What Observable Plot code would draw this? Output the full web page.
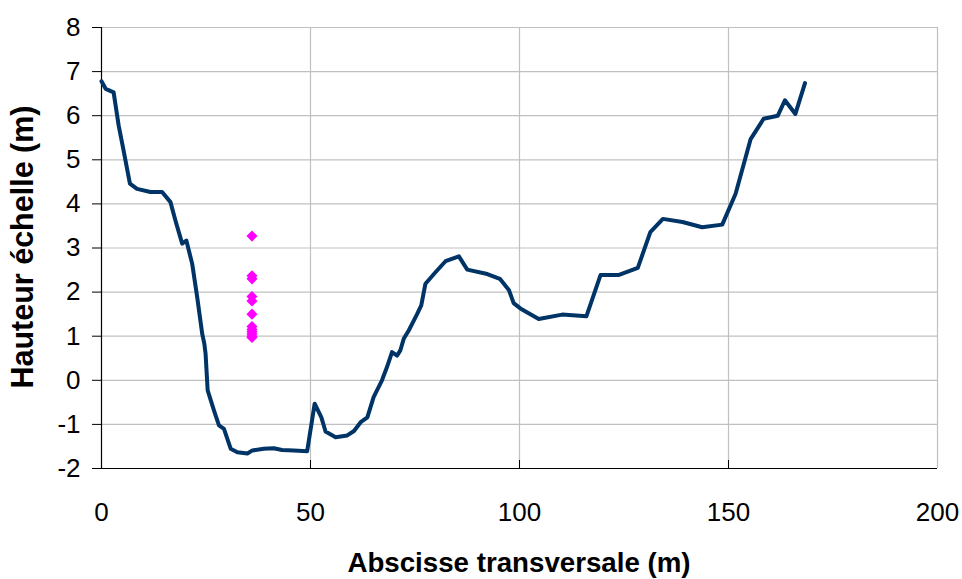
<!DOCTYPE html>
<html>
<head>
<meta charset="utf-8">
<script src="https://cdn.jsdelivr.net/npm/d3@7"></script>
<script src="https://cdn.jsdelivr.net/npm/@observablehq/plot@0.6"></script>
<style>
  body { margin: 0; background: #fff; }
  svg { font-family: "Liberation Sans", Arial, sans-serif; }
</style>
</head>
<body>
<div id="chart"></div>
<script>
const profileX = [0, 1, 2.9, 4.1, 5.3, 6.8, 8.5, 11.7, 14.5, 16.5, 17.7, 19.3, 20.3, 21.7, 22.9, 24.1, 24.6, 24.9, 25.4, 26.9, 28.1, 29.3, 30.9, 32.5, 34.9, 36.1, 38.8, 41.2, 43.2, 46, 49.2, 51, 52.6, 53.6, 56, 58.8, 60.4, 62, 63.6, 65.1, 67.1, 68.3, 69.5, 70.7, 71.5, 72.3, 73.5, 75.5, 76.5, 77.5, 79.9, 82.3, 85.5, 87.5, 92.3, 95.3, 97.5, 98.6, 100.2, 104.6, 110.2, 116, 119.4, 123.8, 128.3, 131.3, 134.3, 139, 143.7, 148.5, 151.7, 155.3, 158.4, 161.8, 163.5, 166, 168.3];
const profileY = [6.78, 6.61, 6.53, 5.78, 5.2, 4.46, 4.34, 4.27, 4.27, 4.04, 3.62, 3.1, 3.17, 2.64, 1.88, 1.05, 0.83, 0.6, -0.23, -0.68, -1.02, -1.1, -1.55, -1.63, -1.66, -1.59, -1.55, -1.54, -1.58, -1.59, -1.61, -0.53, -0.84, -1.16, -1.29, -1.25, -1.15, -0.95, -0.84, -0.38, 0, 0.3, 0.64, 0.56, 0.68, 0.94, 1.13, 1.5, 1.7, 2.19, 2.45, 2.7, 2.81, 2.51, 2.41, 2.3, 2.04, 1.75, 1.63, 1.39, 1.49, 1.45, 2.39, 2.39, 2.55, 3.36, 3.66, 3.59, 3.47, 3.53, 4.23, 5.47, 5.93, 6.0, 6.35, 6.04, 6.74];

const obsX = [36, 36, 36, 36, 36, 36, 36, 36, 36, 36, 36, 36];
const obsY = [3.27, 2.37, 2.3, 1.9, 1.8, 1.5, 1.22, 1.15, 1.1, 1.05, 1.0, 0.97];

const xTicks = [0, 50, 100, 150, 200];
const yTicks = [-2, -1, 0, 1, 2, 3, 4, 5, 6, 7, 8];
const xGrid = [50, 100, 150, 200];
const yGrid = [-1, 0, 1, 2, 3, 4, 5, 6, 7, 8];
const xTitle = "Abscisse transversale (m)";
const yTitle = "Hauteur échelle (m)";

const profile = profileX.map((x, i) => ({x, y: profileY[i]}));
const obs = obsX.map((x, i) => ({x, y: obsY[i]}));
const fmt = d => String(d);

const chart = Plot.plot({
  width: 962,
  height: 579,
  marginLeft: 101,
  marginRight: 25,
  marginTop: 27,
  marginBottom: 111,
  style: {fontFamily: "'Liberation Sans', Arial, sans-serif", background: "#fff"},
  x: {domain: [0, 200]},
  y: {domain: [-2, 8]},
  marks: [
    Plot.ruleY(yGrid, {stroke: "#c0c0c0", strokeWidth: 1.2}),
    Plot.ruleX(xGrid, {stroke: "#c0c0c0", strokeWidth: 1.2}),
    Plot.axisY({ticks: yTicks, tickFormat: fmt, tickSize: 9, tickPadding: 12, fontSize: 26, label: null, stroke: "#000", fill: "#000"}),
    Plot.axisX({ticks: xTicks, tickFormat: fmt, tickSize: 0, tickPadding: 34, fontSize: 26, label: null, fill: "#000"}),
    Plot.axisX({ticks: [50, 100, 150], tickSize: -8, text: null, label: null, stroke: "#000"}),
    Plot.ruleX([0], {stroke: "#000", strokeWidth: 1.2}),
    Plot.ruleY([-2], {stroke: "#000", strokeWidth: 1.2}),
    Plot.line(profile, {x: "x", y: "y", stroke: "#003366", strokeWidth: 4, strokeLinejoin: "round"}),
    Plot.dot(obs, {x: "x", y: "y", symbol: "diamond2", r: 5, fill: "#ff00ff", stroke: "none"})
  ]
});

const svg = d3.select(chart);
svg.append("text")
  .attr("x", 519).attr("y", 572)
  .attr("text-anchor", "middle")
  .attr("font-size", 27.7).attr("font-weight", "bold")
  .attr("font-family", "'Liberation Sans', Arial, sans-serif")
  .attr("fill", "#000")
  .text(xTitle);
svg.append("text")
  .attr("transform", "translate(33,247) rotate(-90)")
  .attr("text-anchor", "middle")
  .attr("font-size", 30.5).attr("font-weight", "bold")
  .attr("font-family", "'Liberation Sans', Arial, sans-serif")
  .attr("fill", "#000")
  .text(yTitle);

document.getElementById("chart").appendChild(chart);
</script>
</body>
</html>
